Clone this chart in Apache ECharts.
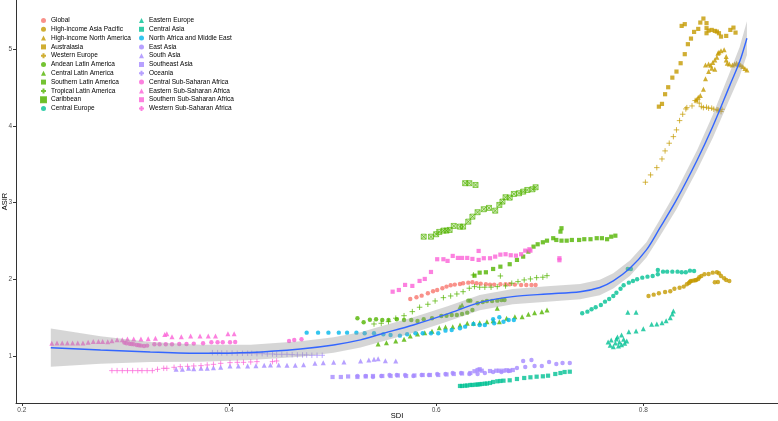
<!DOCTYPE html>
<html>
<head>
<meta charset="utf-8">
<title>ASIR vs SDI</title>
<script src="https://cdn.jsdelivr.net/npm/echarts@6/dist/echarts.min.js"></script>
<style>
  html, body { margin: 0; padding: 0; background: #ffffff; }
  #chart { width: 778px; height: 421px; }
</style>
</head>
<body>
<div id="chart"></div>
<script>
// ---- data: [SDI, ASIR] per region ----
const regions = [
  'Global', 'High-income Asia Pacific', 'High-income North America', 'Australasia', 'Western Europe',
  'Andean Latin America', 'Central Latin America', 'Southern Latin America', 'Tropical Latin America',
  'Caribbean', 'Central Europe', 'Eastern Europe', 'Central Asia', 'North Africa and Middle East',
  'East Asia', 'South Asia', 'Southeast Asia', 'Oceania', 'Central Sub-Saharan Africa',
  'Eastern Sub-Saharan Africa', 'Southern Sub-Saharan Africa', 'Western Sub-Saharan Africa'
]

const globalPts = [[0.575,1.743],[0.581,1.765],[0.586,1.786],[0.592,1.817],[0.597,1.844],[0.601,1.860],[0.606,1.883],[0.610,1.904],[0.614,1.922],[0.618,1.930],[0.623,1.939],[0.626,1.948],[0.631,1.956],[0.635,1.961],[0.639,1.948],[0.643,1.943],[0.648,1.935],[0.652,1.930],[0.656,1.930],[0.662,1.935],[0.667,1.935],[0.671,1.935],[0.676,1.930],[0.682,1.926],[0.687,1.926],[0.692,1.926],[0.696,1.926]]
const hiAsiaPacific = [[0.805,1.782],[0.810,1.799],[0.815,1.817],[0.821,1.834],[0.826,1.844],[0.830,1.877],[0.835,1.890],[0.839,1.904],[0.842,1.935],[0.844,1.952],[0.845,1.969],[0.846,1.978],[0.848,1.982],[0.850,1.987],[0.851,1.991],[0.853,2.004],[0.854,2.026],[0.856,2.043],[0.859,2.065],[0.863,2.069],[0.867,2.086],[0.871,2.091],[0.873,2.078],[0.875,2.043],[0.878,2.013],[0.880,1.991],[0.883,1.978],[0.869,1.961],[0.872,1.965]]
const hiNorthAmerica = [[0.851,4.338],[0.853,4.373],[0.855,4.394],[0.858,4.477],[0.860,4.615],[0.863,4.707],[0.860,4.794],[0.863,4.807],[0.865,4.790],[0.866,4.751],[0.867,4.824],[0.869,4.859],[0.871,4.894],[0.872,4.947],[0.873,4.960],[0.875,4.980],[0.878,4.990],[0.880,4.902],[0.880,4.859],[0.881,4.816],[0.883,4.807],[0.886,4.794],[0.888,4.807],[0.890,4.816],[0.892,4.803],[0.894,4.794],[0.896,4.772],[0.898,4.746],[0.900,4.729],[0.869,4.738]]
const australasia = [[0.815,4.250],[0.818,4.286],[0.821,4.412],[0.824,4.503],[0.828,4.628],[0.832,4.707],[0.836,4.816],[0.840,4.934],[0.843,5.064],[0.846,5.137],[0.849,5.224],[0.853,5.263],[0.855,5.346],[0.858,5.398],[0.861,5.338],[0.861,5.273],[0.861,5.207],[0.863,5.241],[0.866,5.250],[0.869,5.237],[0.871,5.228],[0.873,5.207],[0.875,5.163],[0.880,5.172],[0.884,5.250],[0.887,5.280],[0.889,5.215],[0.837,5.302],[0.840,5.325]]
const westernEurope = [[0.802,3.265],[0.807,3.360],[0.813,3.455],[0.818,3.568],[0.821,3.673],[0.825,3.773],[0.829,3.859],[0.832,3.947],[0.835,4.068],[0.838,4.151],[0.841,4.220],[0.842,4.237],[0.847,4.259],[0.850,4.329],[0.852,4.338],[0.854,4.295],[0.856,4.250],[0.858,4.237],[0.861,4.243],[0.863,4.230],[0.866,4.230],[0.868,4.217],[0.871,4.207],[0.873,4.198],[0.875,4.185],[0.872,4.207],[0.876,4.216]]
const andeanLatAm = [[0.524,1.492],[0.530,1.439],[0.536,1.473],[0.542,1.478],[0.548,1.469],[0.554,1.469],[0.562,1.478],[0.569,1.469],[0.576,1.469],[0.582,1.456],[0.588,1.478],[0.596,1.492],[0.605,1.522],[0.610,1.525],[0.615,1.535],[0.620,1.535],[0.625,1.548],[0.630,1.565],[0.631,1.721],[0.633,1.721],[0.635,1.600],[0.640,1.687],[0.645,1.704],[0.649,1.717],[0.654,1.717],[0.659,1.721],[0.663,1.730],[0.666,1.730]]
const centralLatAm = [[0.544,1.156],[0.552,1.173],[0.561,1.196],[0.569,1.218],[0.575,1.261],[0.582,1.287],[0.589,1.304],[0.596,1.322],[0.603,1.369],[0.609,1.378],[0.616,1.382],[0.623,1.404],[0.630,1.426],[0.636,1.426],[0.642,1.434],[0.649,1.447],[0.655,1.460],[0.661,1.447],[0.668,1.492],[0.676,1.512],[0.683,1.512],[0.689,1.544],[0.695,1.565],[0.702,1.578],[0.707,1.600],[0.659,1.622],[0.623,1.643],[0.625,1.665]]
const southernLatAm = [[0.637,2.047],[0.642,2.086],[0.648,2.091],[0.655,2.134],[0.662,2.164],[0.671,2.196],[0.678,2.252],[0.684,2.295],[0.689,2.360],[0.694,2.425],[0.698,2.456],[0.703,2.482],[0.707,2.503],[0.713,2.535],[0.716,2.512],[0.721,2.503],[0.726,2.503],[0.731,2.512],[0.738,2.512],[0.743,2.522],[0.749,2.522],[0.755,2.535],[0.760,2.535],[0.765,2.522],[0.769,2.555],[0.773,2.568],[0.721,2.665],[0.720,2.621]]
const tropicalLatAm = [[0.540,1.417],[0.547,1.426],[0.554,1.447],[0.561,1.492],[0.569,1.525],[0.577,1.578],[0.584,1.635],[0.592,1.674],[0.599,1.717],[0.607,1.760],[0.614,1.782],[0.620,1.808],[0.626,1.838],[0.632,1.883],[0.637,1.904],[0.642,1.896],[0.647,1.896],[0.653,1.896],[0.659,1.904],[0.662,2.043],[0.667,1.913],[0.673,1.948],[0.679,1.969],[0.685,1.991],[0.691,2.004],[0.697,2.021],[0.703,2.026],[0.707,2.047],[0.636,2.056]]
const caribbean = [[0.588,2.555],[0.595,2.555],[0.600,2.587],[0.603,2.617],[0.607,2.634],[0.610,2.634],[0.613,2.643],[0.617,2.695],[0.623,2.686],[0.626,2.686],[0.631,2.751],[0.635,2.816],[0.640,2.874],[0.646,2.913],[0.651,2.930],[0.657,2.894],[0.661,2.969],[0.664,3.012],[0.667,3.069],[0.671,3.064],[0.675,3.112],[0.680,3.121],[0.684,3.142],[0.688,3.164],[0.693,3.173],[0.696,3.199],[0.628,3.252],[0.632,3.252],[0.638,3.229]]
const centralEurope = [[0.741,1.557],[0.746,1.578],[0.750,1.609],[0.754,1.635],[0.759,1.665],[0.763,1.708],[0.767,1.743],[0.771,1.782],[0.774,1.825],[0.778,1.877],[0.781,1.922],[0.786,1.956],[0.790,1.978],[0.794,2.000],[0.799,2.021],[0.804,2.034],[0.809,2.043],[0.814,2.065],[0.814,2.121],[0.819,2.099],[0.823,2.099],[0.828,2.099],[0.833,2.099],[0.837,2.091],[0.841,2.091],[0.845,2.112],[0.849,2.108],[0.785,2.134],[0.788,2.134]]
const easternEurope = [[0.785,1.570],[0.793,1.570],[0.766,1.183],[0.768,1.140],[0.769,1.209],[0.771,1.121],[0.773,1.169],[0.774,1.222],[0.776,1.130],[0.777,1.183],[0.779,1.147],[0.781,1.218],[0.782,1.166],[0.784,1.196],[0.779,1.274],[0.775,1.248],[0.786,1.317],[0.793,1.326],[0.800,1.356],[0.808,1.413],[0.813,1.417],[0.818,1.434],[0.822,1.460],[0.826,1.499],[0.828,1.548],[0.829,1.587]]
const centralAsia = [[0.623,0.609],[0.625,0.609],[0.628,0.613],[0.630,0.615],[0.633,0.622],[0.635,0.622],[0.638,0.626],[0.640,0.628],[0.642,0.631],[0.644,0.635],[0.647,0.639],[0.649,0.641],[0.652,0.648],[0.655,0.661],[0.659,0.670],[0.662,0.674],[0.665,0.678],[0.671,0.683],[0.678,0.700],[0.685,0.713],[0.691,0.722],[0.697,0.730],[0.703,0.735],[0.708,0.743],[0.715,0.765],[0.720,0.778],[0.724,0.791],[0.729,0.795]]
const northAfricaME = [[0.475,1.304],[0.486,1.304],[0.496,1.304],[0.506,1.304],[0.514,1.304],[0.523,1.304],[0.531,1.296],[0.540,1.296],[0.549,1.283],[0.556,1.274],[0.565,1.265],[0.572,1.283],[0.580,1.296],[0.587,1.296],[0.595,1.296],[0.602,1.296],[0.609,1.330],[0.615,1.339],[0.623,1.361],[0.628,1.382],[0.636,1.417],[0.642,1.404],[0.647,1.404],[0.655,1.478],[0.656,1.426],[0.661,1.505],[0.665,1.447],[0.670,1.469],[0.675,1.469]]
const eastAsia = [[0.524,0.739],[0.532,0.739],[0.539,0.726],[0.547,0.739],[0.555,0.752],[0.562,0.752],[0.570,0.752],[0.578,0.739],[0.586,0.752],[0.593,0.752],[0.601,0.765],[0.609,0.765],[0.616,0.778],[0.624,0.778],[0.632,0.765],[0.640,0.765],[0.647,0.778],[0.655,0.791],[0.663,0.791],[0.670,0.804],[0.678,0.844],[0.684,0.935],[0.686,0.857],[0.692,0.948],[0.695,0.870],[0.702,0.870],[0.709,0.922],[0.716,0.896],[0.722,0.909],[0.729,0.909]]
const southAsia = [[0.349,0.826],[0.355,0.826],[0.361,0.839],[0.366,0.835],[0.373,0.839],[0.379,0.839],[0.385,0.848],[0.392,0.852],[0.401,0.870],[0.409,0.870],[0.418,0.870],[0.426,0.874],[0.434,0.878],[0.440,0.883],[0.448,0.883],[0.456,0.878],[0.464,0.878],[0.472,0.887],[0.483,0.904],[0.491,0.913],[0.501,0.917],[0.511,0.922],[0.527,0.935],[0.535,0.948],[0.540,0.956],[0.544,0.965],[0.551,0.939],[0.561,0.935]]
const southeastAsia = [[0.500,0.726],[0.508,0.726],[0.515,0.733],[0.524,0.726],[0.532,0.733],[0.539,0.739],[0.548,0.739],[0.556,0.739],[0.563,0.746],[0.571,0.739],[0.579,0.746],[0.587,0.752],[0.594,0.752],[0.602,0.752],[0.610,0.759],[0.617,0.765],[0.625,0.772],[0.633,0.778],[0.637,0.801],[0.640,0.817],[0.642,0.827],[0.644,0.808],[0.652,0.804],[0.658,0.808],[0.661,0.808],[0.665,0.808],[0.668,0.814],[0.671,0.808],[0.674,0.817]]
const oceania = [[0.384,1.043],[0.389,1.043],[0.393,1.039],[0.398,1.039],[0.403,1.039],[0.408,1.035],[0.413,1.035],[0.418,1.035],[0.422,1.035],[0.427,1.030],[0.432,1.030],[0.437,1.026],[0.442,1.026],[0.446,1.022],[0.451,1.022],[0.456,1.022],[0.461,1.017],[0.466,1.013],[0.471,1.013],[0.475,1.013],[0.480,1.009],[0.485,1.009],[0.490,1.009]]
const centralSSA = [[0.299,1.174],[0.301,1.165],[0.304,1.160],[0.306,1.156],[0.308,1.152],[0.311,1.143],[0.313,1.139],[0.315,1.135],[0.318,1.130],[0.321,1.135],[0.328,1.152],[0.333,1.152],[0.339,1.152],[0.345,1.152],[0.352,1.156],[0.359,1.156],[0.366,1.161],[0.375,1.165],[0.383,1.178],[0.389,1.178],[0.394,1.178],[0.401,1.178],[0.406,1.183],[0.458,1.196],[0.463,1.209],[0.470,1.217]]
const easternSSA = [[0.229,1.165],[0.234,1.170],[0.239,1.170],[0.244,1.170],[0.249,1.170],[0.254,1.170],[0.259,1.170],[0.264,1.180],[0.269,1.190],[0.274,1.190],[0.278,1.190],[0.283,1.185],[0.287,1.200],[0.292,1.210],[0.297,1.210],[0.302,1.220],[0.308,1.220],[0.315,1.220],[0.322,1.225],[0.329,1.230],[0.338,1.280],[0.340,1.290],[0.345,1.250],[0.354,1.250],[0.363,1.260],[0.372,1.260],[0.380,1.260],[0.387,1.260],[0.399,1.290],[0.405,1.290]]
const southernSSA = [[0.558,1.838],[0.564,1.860],[0.570,1.926],[0.577,1.913],[0.584,1.978],[0.589,2.004],[0.595,2.095],[0.601,2.261],[0.607,2.261],[0.611,2.239],[0.616,2.304],[0.621,2.278],[0.625,2.278],[0.630,2.278],[0.635,2.265],[0.641,2.252],[0.641,2.369],[0.646,2.274],[0.652,2.274],[0.657,2.295],[0.662,2.321],[0.667,2.326],[0.672,2.313],[0.677,2.308],[0.682,2.326],[0.686,2.373],[0.690,2.391],[0.691,2.373],[0.719,2.274],[0.719,2.248]]
const westernSSA = [[0.287,0.809],[0.292,0.809],[0.297,0.809],[0.302,0.809],[0.307,0.809],[0.312,0.809],[0.316,0.809],[0.321,0.809],[0.326,0.809],[0.331,0.826],[0.337,0.839],[0.340,0.839],[0.347,0.852],[0.353,0.861],[0.360,0.865],[0.366,0.870],[0.373,0.874],[0.379,0.883],[0.385,0.891],[0.392,0.904],[0.401,0.913],[0.408,0.917],[0.414,0.917],[0.421,0.922],[0.427,0.926],[0.442,0.926],[0.446,0.935]]

// loess fit with its confidence band
const smoothSdi = [0.228,0.276,0.324,0.373,0.421,0.469,0.501,0.527,0.546,0.578,0.611,0.642,0.674,0.707,0.739,0.758,0.771,0.787,0.803,0.816,0.832,0.852,0.867,0.883,0.893,0.900]
const smoothAsir = [1.108,1.078,1.052,1.035,1.046,1.091,1.143,1.209,1.283,1.404,1.548,1.695,1.773,1.808,1.838,1.893,1.978,2.143,2.382,2.669,3.034,3.555,3.990,4.511,4.837,5.142]
const bandLow = [0.858,0.898,0.922,0.925,0.946,0.991,1.043,1.109,1.183,1.304,1.448,1.595,1.673,1.708,1.738,1.793,1.878,2.043,2.282,2.559,2.914,3.425,3.840,4.341,4.647,4.922]
const bandHigh = [1.358,1.258,1.182,1.145,1.146,1.191,1.243,1.309,1.383,1.504,1.648,1.795,1.873,1.908,1.938,1.993,2.078,2.243,2.482,2.779,3.154,3.685,4.140,4.681,5.027,5.362]

const xTicks = [0.2, 0.4, 0.6, 0.8]
const yTicks = [1, 2, 3, 4, 5]

// ---- styling ----
const FONT = 'Liberation Sans, Arial, sans-serif'
const PLUS = 'path://M5,0L5,10M0,5L10,5'
const BOXX = 'path://M0,0L10,0L10,10L0,10ZM0,0L10,10M10,0L0,10'
const gold = '#C49A00', green = '#53B400', teal = '#00C094', cyan = '#00B6EB', purple = '#A58AFF', pink = '#FB61D7'

const regionPoints = [globalPts, hiAsiaPacific, hiNorthAmerica, australasia, westernEurope,
  andeanLatAm, centralLatAm, southernLatAm, tropicalLatAm, caribbean, centralEurope, easternEurope,
  centralAsia, northAfricaME, eastAsia, southAsia, southeastAsia, oceania, centralSSA, easternSSA,
  southernSSA, westernSSA]
const regionColor = ['#F8766D', gold, gold, gold, gold, green, green, green, green, green,
  teal, teal, teal, cyan, purple, purple, purple, purple, pink, pink, pink, pink]
const regionShape = ['circle', 'circle', 'triangle', 'rect', 'plus', 'circle', 'triangle', 'rect', 'plus', 'boxx',
  'circle', 'triangle', 'rect', 'circle', 'circle', 'triangle', 'rect', 'plus', 'circle', 'triangle', 'rect', 'plus']

const shapeStyle = (shape, c) => {
  if (shape === 'plus') {
    return { symbol: PLUS, symbolSize: 5.5, itemStyle: { color: 'rgba(0,0,0,0)', borderColor: c, borderWidth: 0.9 } }
  }
  if (shape === 'boxx') {
    return { symbol: BOXX, symbolSize: 5, itemStyle: { color: 'rgba(83,180,0,0.35)', borderColor: c, borderWidth: 0.8 } }
  }
  const size = shape === 'triangle' ? 5 : (shape === 'rect' ? 4.2 : 4.4)
  return { symbol: shape, symbolSize: size, itemStyle: { color: c } }
}

const scatterSeries = regions.map((name, i) => Object.assign({
  name: name,
  type: 'scatter',
  data: regionPoints[i],
  z: 2,
  silent: true
}, shapeStyle(regionShape[i], regionColor[i])))

const bandSeries = {
  type: 'custom',
  data: [[smoothSdi[0], smoothAsir[0]]],
  z: 3,
  silent: true,
  clip: true,
  renderItem: (params, api) => {
    const pts = []
    for (let i = 0; i < smoothSdi.length; i++) pts.push(api.coord([smoothSdi[i], bandHigh[i]]))
    for (let i = smoothSdi.length - 1; i >= 0; i--) pts.push(api.coord([smoothSdi[i], bandLow[i]]))
    return { type: 'polygon', shape: { points: pts }, style: { fill: 'rgba(153,153,153,0.4)' } }
  }
}

const lineSeries = {
  type: 'line',
  data: smoothSdi.map((x, i) => [x, smoothAsir[i]]),
  smooth: 0.3,
  showSymbol: false,
  z: 4,
  silent: true,
  lineStyle: { color: '#3366FF', width: 1.4 }
}

const legendBase = {
  orient: 'vertical',
  top: 17,
  padding: 0,
  itemWidth: 5,
  itemHeight: 5,
  itemGap: 1.8,
  selectedMode: false,
  textStyle: { fontSize: 6.5, lineHeight: 7, color: '#000', fontFamily: FONT }
}

const chart = echarts.init(document.getElementById('chart'))
chart.setOption({
  animation: false,
  backgroundColor: '#ffffff',
  textStyle: { fontFamily: FONT },
  grid: { left: 16, right: 0, top: 0, bottom: 18, containLabel: false, outerBoundsMode: 'none' },
  legend: [
    Object.assign({}, legendBase, { left: 40, data: regions.slice(0, 11) }),
    Object.assign({}, legendBase, { left: 138, data: regions.slice(11) })
  ],
  xAxis: {
    type: 'value',
    min: 0.1944,
    max: 0.93,
    name: 'SDI',
    nameLocation: 'middle',
    nameGap: 9,
    nameMoveOverlap: false,
    nameTextStyle: { fontSize: 7.5, color: '#000', fontFamily: FONT },
    axisLine: { show: true, lineStyle: { color: '#333', width: 1 } },
    axisTick: { show: true, length: 3, customValues: xTicks, lineStyle: { color: '#333' } },
    axisLabel: { customValues: xTicks, fontSize: 6.5, color: '#4d4d4d', margin: 4, fontFamily: FONT },
    splitLine: { show: false }
  },
  yAxis: {
    type: 'value',
    min: 0.387,
    max: 5.64,
    name: 'ASIR',
    nameLocation: 'middle',
    nameGap: 7,
    nameRotate: 90,
    nameMoveOverlap: false,
    nameTextStyle: { fontSize: 7.5, color: '#000', fontFamily: FONT },
    axisLine: { show: true, lineStyle: { color: '#333', width: 1 } },
    axisTick: { show: true, length: 3, customValues: yTicks, lineStyle: { color: '#333' } },
    axisLabel: { customValues: yTicks, fontSize: 6.5, color: '#4d4d4d', margin: 4, fontFamily: FONT },
    splitLine: { show: false }
  },
  series: scatterSeries.concat([bandSeries, lineSeries])
})
</script>
</body>
</html>
